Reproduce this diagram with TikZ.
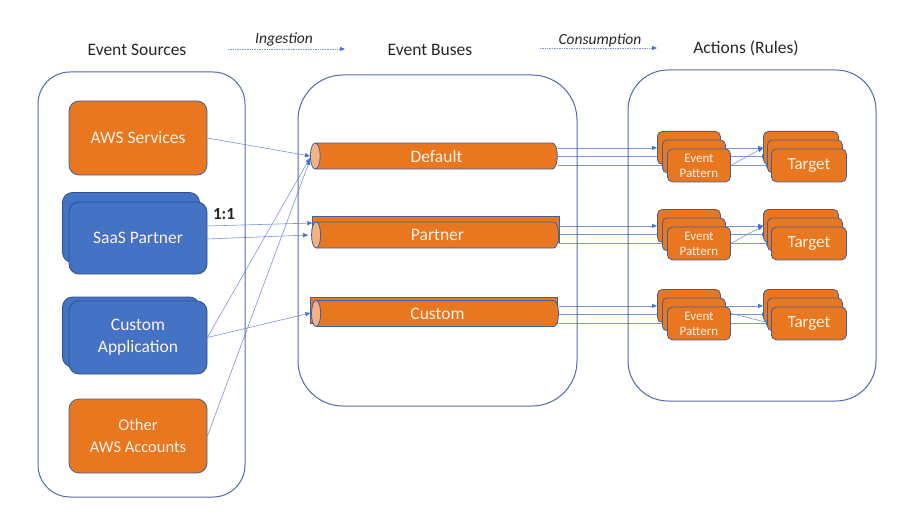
\documentclass[tikz,border=0pt]{standalone}
\usepackage{fontspec}
\setmainfont{Carlito}
\usetikzlibrary{shapes.geometric,arrows.meta}
\definecolor{org}{HTML}{E8771F}
\definecolor{blu}{HTML}{4472C4}
\definecolor{bdr}{HTML}{41609E}
\definecolor{bbdr}{HTML}{2F528F}
\definecolor{cont}{HTML}{5468B0}
\definecolor{lnk}{HTML}{7B94D6}
\definecolor{tip}{HTML}{4472C4}
\definecolor{capc}{HTML}{F4B183}
\definecolor{lt}{HTML}{FFF2E8}
\definecolor{ink}{HTML}{262626}
\pgfdeclarelayer{bg}\pgfsetlayers{bg,main}
\begin{document}
\begin{tikzpicture}[x=1pt,y=-1pt,
  container/.style={draw=cont,line width=1pt},
  obox/.style={draw=bdr,line width=0.8pt,fill=org,rounded corners=10pt,text=lt,
    font=\fontsize{17.5}{22}\selectfont,align=center,minimum width=138pt,minimum height=74pt,inner sep=0pt},
  bbox/.style={obox,fill=blu,draw=bbdr},
  bus/.style={cylinder,shape border rotate=180,aspect=0.8,draw=bdr,line width=0.8pt,
    cylinder uses custom fill,cylinder body fill=org,cylinder end fill=capc,
    minimum height=247pt,minimum width=26pt,inner sep=0pt,text=lt,font=\fontsize{17.5}{20}\selectfont},
  pat/.style={draw=bdr,line width=0.8pt,fill=org,rounded corners=5pt,minimum width=63pt,minimum height=33pt,
    inner sep=0pt,anchor=north west,text=lt,align=center,font=\fontsize{13}{15}\selectfont},
  tgt/.style={pat,minimum width=75pt,font=\fontsize{17}{20}\selectfont},
  head/.style={text=ink,font=\fontsize{17.5}{20}\selectfont},
  ital/.style={text=ink,font=\fontsize{15.5}{18}\selectfont\itshape},
  link/.style={draw=lnk,line width=0.6pt,-{Triangle[length=5pt,width=4pt,color=tip]}},
  flow/.style={draw=lnk,line width=0.7pt,densely dotted,-{Triangle[length=5pt,width=4pt,color=tip]}}
]
\useasboundingbox (0,0) rectangle (923,532);

% headings
\node[head] (hsrc) at (137,50) {Event Sources};
\node[head] (hbus) at (430,50) {Event Buses};
\node[head] (hact) at (746,48) {Actions (Rules)};
\node[ital] (ing) at (284,39) {Ingestion};
\node[ital] (con) at (600,40) {Consumption};
\coordinate (i1) at (228,49); \coordinate (i2) at (345,49);
\coordinate (c1) at (540,48); \coordinate (c2) at (657,48);
\draw[flow] (i1) -- (i2);
\draw[flow] (c1) -- (c2);

% containers
\draw[container,rounded corners=32pt] (38,72) rectangle (245,497);
\draw[container,rounded corners=45pt] (298,75) rectangle (577,406);
\draw[container,rounded corners=40pt] (628,70) rectangle (876,401);

% sources
\node[obox] (aws) at (138,138) {AWS Services};
\node[bbox,minimum width=137pt,minimum height=70pt] (saasb) at (131,227.5) {};
\node[bbox,minimum height=72pt] (saas) at (138,238) {SaaS Partner};
\node[bbox,minimum width=137pt,minimum height=70pt] (appb) at (131,332) {};
\node[bbox,minimum height=73pt] (app) at (138,337.5) {Custom\\Application};
\node[obox,font=\fontsize{16.5}{22}\selectfont] (other) at (138,436) {Other\\AWS Accounts};
\node[text=ink,font=\fontsize{17}{20}\selectfont\bfseries] (oneone) at (224,214) {1:1};

% buses
\node[bus] (def) at (436.5,156) {Default};
\node[bus] (parb) at (436.5,229) {};
\node[bus] (par) at (437.5,235) {Partner};
\node[bus] (cusb) at (434.5,310) {};
\node[bus] (cus) at (437.5,313.5) {Custom};

% rules
\foreach \r/\y in {1/131,2/209,3/289}{
  \node[pat] (p\r1) at (657,\y) {};
  \node[pat] (p\r2) at (662,\y+8.5) {};
  \node[pat] (p\r3) at (667,\y+17.5) {Event\\Pattern};
  \node[tgt] (t\r1) at (763,\y) {};
  \node[tgt] (t\r2) at (767,\y+8.5) {};
  \node[tgt] (t\r3) at (771,\y+17.5) {Target};
}

\begin{pgfonlayer}{bg}
  \draw[link] (aws.east) -- (def.west);
  \draw[link] (app.east) -- ([yshift=-2pt]def.west);
  \draw[link] (other.east) -- ([yshift=-4pt]def.west);
  \draw[link] ([yshift=12pt]saas.east) -- ([yshift=6pt]parb.west);
  \draw[link] ([yshift=-1pt]saas.east) -- ([xshift=-3pt]par.west);
  \draw[link] (app.east) -- ([yshift=-3pt]cusb.west);
  \foreach \r/\b in {1/def,2/par,3/cus}{
    \foreach \i in {1,2,3}{
      \draw[link] (\b.east |- p\r\i.west) -- (p\r\i.west);
      \draw[link] (p\r\i.east) -- (t\r\i.west);
    }
  }
  \draw[link] (p13.east) -- (t11.west);
  \draw[link] (p23.east) -- (t21.west);
  \draw[link] ([yshift=10pt]p33.east) -- (t33.west);
\end{pgfonlayer}
\end{tikzpicture}
\end{document}
